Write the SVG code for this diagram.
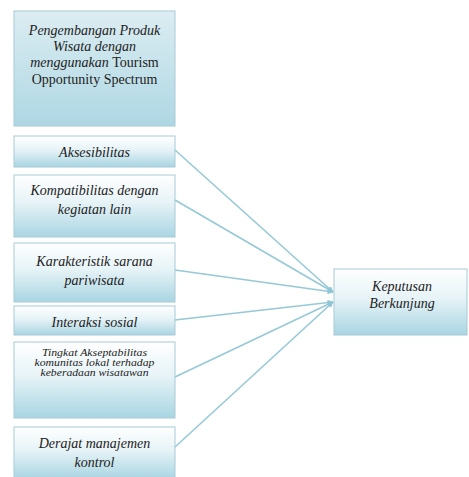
<svg xmlns="http://www.w3.org/2000/svg" width="469" height="477" viewBox="0 0 469 477">
<defs>
<linearGradient id="g" x1="0" y1="0" x2="0" y2="1">
<stop offset="0" stop-color="#ffffff"/>
<stop offset="0.45" stop-color="#e6f3f7"/>
<stop offset="1" stop-color="#a9d5e2"/>
</linearGradient>
<linearGradient id="g2" x1="0" y1="0" x2="0" y2="1">
<stop offset="0" stop-color="#dcedf2"/>
<stop offset="1" stop-color="#aed7e3"/>
</linearGradient>
<marker id="ah" viewBox="0 0 10 10" refX="9" refY="5" markerWidth="6" markerHeight="6" orient="auto" markerUnits="userSpaceOnUse">
<path d="M0,0 L10,5 L0,10 z" fill="#8fc6d6"/>
</marker>
</defs>
<style>
.box{stroke:#a8cbd6;stroke-width:1;fill:url(#g)}
text{font-family:'Liberation Serif','DejaVu Serif',serif;font-size:14px;font-style:italic;fill:#222;text-anchor:middle}
.r{font-style:normal}
.s{font-size:10px}
.c{stroke:#96c9d8;stroke-width:1.6;fill:none;marker-end:url(#ah)}
</style>
<rect width="469" height="477" fill="#ffffff"/>
<g id="n0">
<rect class="box" x="14" y="11" width="161" height="115" style="fill:url(#g2)"/>
<text x="94.5" y="35">Pengembangan Produk</text>
<text x="94.5" y="51">Wisata dengan</text>
<text x="94.5" y="67">menggunakan <tspan class="r">Tourism</tspan></text>
<text class="r" x="94.5" y="84">Opportunity Spectrum</text>
</g>
<g id="n1">
<rect class="box" x="14" y="136" width="161" height="31"/>
<text x="94.5" y="157">Aksesibilitas</text>
</g>
<g id="n2">
<rect class="box" x="14" y="175" width="161" height="62"/>
<text x="94.5" y="195">Kompatibilitas dengan</text>
<text x="94.5" y="214">kegiatan lain</text>
</g>
<g id="n3">
<rect class="box" x="14" y="243" width="161" height="59"/>
<text x="94.5" y="266">Karakteristik sarana</text>
<text x="94.5" y="285">pariwisata</text>
</g>
<g id="n4">
<rect class="box" x="14" y="306" width="161" height="29"/>
<text x="94.5" y="327">Interaksi sosial</text>
</g>
<g id="n5">
<rect class="box" x="14" y="342" width="161" height="76"/>
<text class="s" x="94.5" y="356" textLength="105" lengthAdjust="spacingAndGlyphs">Tingkat Akseptabilitas</text>
<text class="s" x="94.5" y="366" textLength="120" lengthAdjust="spacingAndGlyphs">komunitas lokal terhadap</text>
<text class="s" x="94.5" y="376" textLength="108" lengthAdjust="spacingAndGlyphs">keberadaan wisatawan</text>
</g>
<g id="n6">
<rect class="box" x="14" y="427" width="161" height="52"/>
<text x="94.5" y="448">Derajat manajemen</text>
<text x="94.5" y="467">kontrol</text>
</g>
<g id="n7">
<rect class="box" x="334" y="269" width="133" height="66"/>
<text x="402" y="291">Keputusan</text>
<text x="402" y="308">Berkunjung</text>
</g>
<g id="connectors">
<line class="c" x1="175" y1="150" x2="333" y2="292"/>
<line class="c" x1="175" y1="200" x2="333" y2="292"/>
<line class="c" x1="175" y1="270" x2="333" y2="292"/>
<line class="c" x1="175" y1="320" x2="333" y2="302"/>
<line class="c" x1="175" y1="377" x2="333" y2="302"/>
<line class="c" x1="175" y1="447" x2="333" y2="302"/>
</g>
</svg>
